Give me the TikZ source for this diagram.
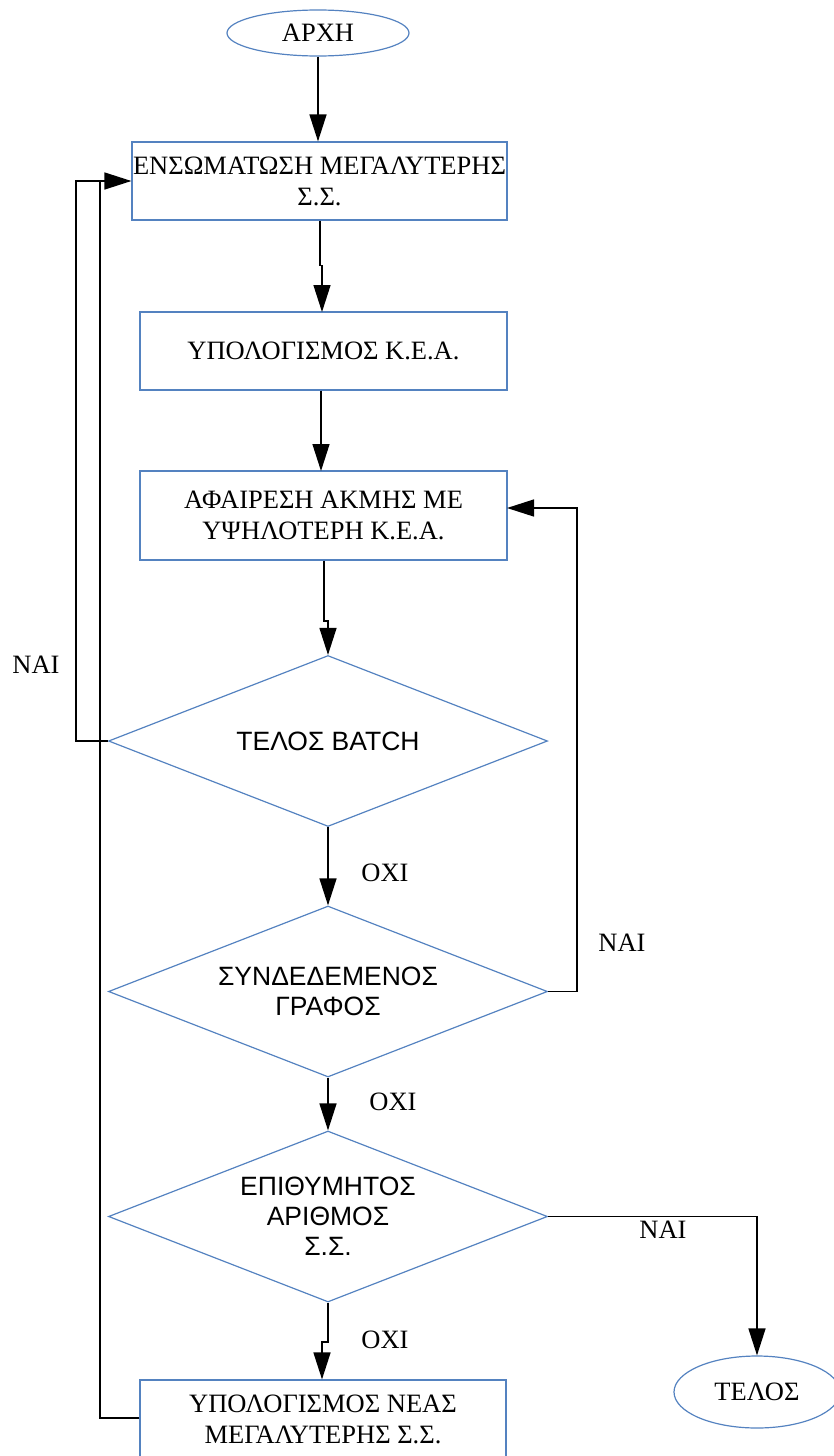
\documentclass[tikz,border=0pt]{standalone}
\usepackage{fontspec}
\setmainfont{Liberation Serif}
\newfontfamily\dsans{Liberation Sans}
\usetikzlibrary{arrows.meta,shapes.geometric}
\definecolor{shapeblue}{RGB}{84,130,192}
\tikzset{
  every node/.style={font=\fontsize{26.5}{31}\selectfont, text=black},
  flowbox/.style={draw=shapeblue, line width=1.2pt, rectangle, inner sep=0pt, align=center},
  terminal/.style={draw=shapeblue, line width=1.2pt, ellipse, inner sep=0pt},
  decision/.style={draw=shapeblue, line width=1.2pt, diamond, aspect=2.567, inner sep=0pt, align=center,
    minimum width=439pt, minimum height=171pt, font=\dsans\fontsize{26.5}{30}\selectfont},
  conn/.style={line width=1.4pt, -{Triangle[width=17pt,length=27pt]}},
  plain/.style={line width=1.4pt},
  tag/.style={inner sep=0pt}
}
\begin{document}
\begin{tikzpicture}[x=1pt,y=-1pt]
\useasboundingbox (0,0) rectangle (833,1456);

% shapes
\node[terminal, minimum width=182pt, minimum height=46pt] (start) at (318,33) {ΑΡΧΗ};
\node[flowbox, minimum width=375pt, minimum height=78pt] (merge) at (319.5,181)
  {ΕΝΣΩΜΑΤΩΣΗ ΜΕΓΑΛΥΤΕΡΗΣ\\Σ.Σ.};
\node[flowbox, minimum width=367pt, minimum height=78pt] (calc) at (323.5,351)
  {ΥΠΟΛΟΓΙΣΜΟΣ Κ.Ε.Α.};
\node[flowbox, minimum width=367pt, minimum height=89pt] (remove) at (323.5,515.5)
  {ΑΦΑΙΡΕΣΗ ΑΚΜΗΣ ΜΕ\\ΥΨΗΛΟΤΕΡΗ Κ.Ε.Α.};
\node[decision] (batch) at (328,741) {ΤΕΛΟΣ BATCH};
\node[decision] (linked) at (328,991.5) {ΣΥΝΔΕΔΕΜΕΝΟΣ\\ΓΡΑΦΟΣ};
\node[decision] (target) at (328,1216.5) {ΕΠΙΘΥΜΗΤΟΣ\\ΑΡΙΘΜΟΣ\\Σ.Σ.};
\node[flowbox, minimum width=366pt, minimum height=78pt] (newcalc) at (323,1419)
  {ΥΠΟΛΟΓΙΣΜΟΣ ΝΕΑΣ\\ΜΕΓΑΛΥΤΕΡΗΣ Σ.Σ.};
\node[terminal, minimum width=166pt, minimum height=72pt] (stop) at (757,1392) {ΤΕΛΟΣ};

% bend points
\coordinate (loopA) at (76,741);
\coordinate (loopAtop) at (76,181);
\coordinate (loopB) at (100,1418);
\coordinate (loopBtop) at (100,181);
\coordinate (loopC) at (577,991.5);
\coordinate (loopCtop) at (577,508);
\coordinate (remIn) at (507,508);
\coordinate (endTurn) at (757,1216.5);

% main flow
\draw[conn] (start) -- (merge.north -| start);
\draw[conn] (merge.south) ++(0.5,0) |- ++(2,45) -- (322,312);
\draw[conn] (calc.south -| 321,0) -- (321,471);
\draw[conn] (remove.south) ++(0.5,0) -- (324,621) -- (328,621) -- (batch.north);
\draw[conn] (batch.south) -- (linked.north);
\draw[conn] (linked.south) -- (target.north);
\draw[conn] (target.south) -- (328,1342) -- (322,1342) -- (newcalc.north -| 322,0);

% loops
\draw[conn] (batch.west) -- (loopA) -- (loopAtop) -- (merge.west);
\draw[plain] (newcalc.west |- loopB) -- (loopB) -- (loopBtop);
\draw[conn] (linked.east) -- (loopC) -- (loopCtop) -- (remIn);
\draw[conn] (target.east) -- (endTurn) -- (stop.north -| endTurn);

% branch labels
\node[tag] (l1) at (36,665) {ΝΑΙ};
\node[tag] (l2) at (385,873) {ΟΧΙ};
\node[tag] (l3) at (622,943) {ΝΑΙ};
\node[tag] (l4) at (393,1102) {ΟΧΙ};
\node[tag] (l5) at (663,1230) {ΝΑΙ};
\node[tag] (l6) at (385,1340) {ΟΧΙ};
\end{tikzpicture}
\end{document}
